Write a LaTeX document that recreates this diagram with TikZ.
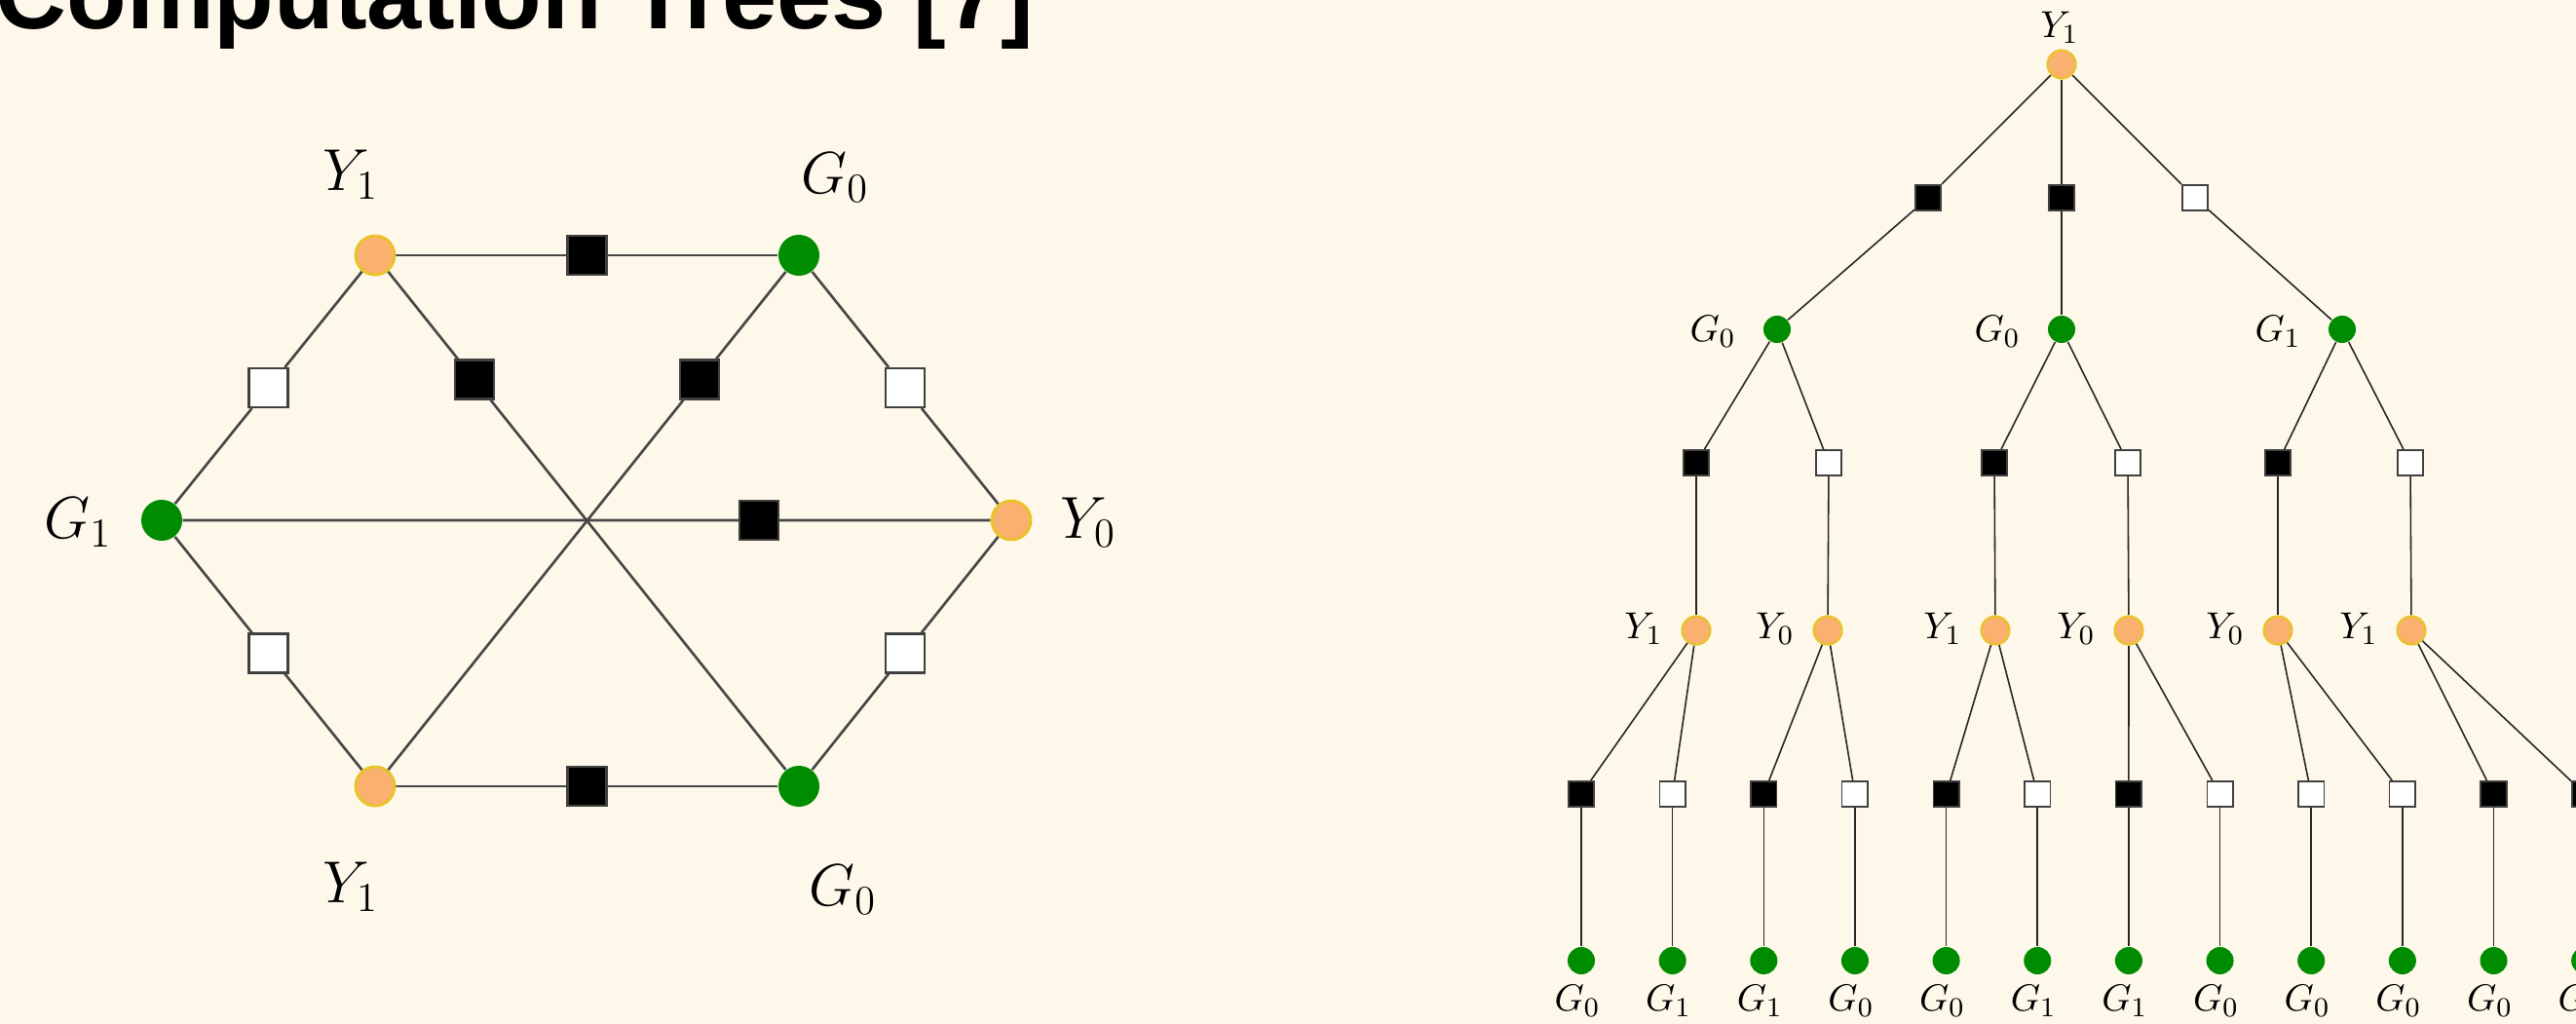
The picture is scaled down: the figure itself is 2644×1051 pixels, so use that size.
\documentclass[tikz,border=0pt]{standalone}
\usepackage{fontspec}
\newfontfamily\titlefont{Liberation Sans}
\usetikzlibrary{calc}
\definecolor{bgc}{RGB}{254,248,234}
\definecolor{orc}{RGB}{250,176,110}
\definecolor{ylc}{RGB}{232,196,40}
\definecolor{grc}{RGB}{0,140,0}
\pgfdeclarelayer{bgfill}
\pgfdeclarelayer{edges}
\pgfsetlayers{bgfill,edges,main}
\begin{document}
\begin{tikzpicture}[x=0.01cm,y=-0.01cm,
  ynode/.style={circle,fill=orc,draw=ylc,inner sep=0pt,minimum size=#1},
  gnode/.style={circle,fill=grc,inner sep=0pt,minimum size=#1},
  bigsq/.style={rectangle,fill=#1,draw=black!75,line width=0.6pt,inner sep=0pt,minimum size=0.40cm},
  smallsq/.style={rectangle,fill=#1,draw=black!75,line width=0.45pt,inner sep=0pt,minimum size=0.265cm},
  bigedge/.style={draw=black!72,line width=0.75pt},
  smalledge/.style={draw=black!85,line width=0.45pt},
  biglab/.style={font=\fontsize{17}{20}\selectfont,inner sep=0pt},
  smalllab/.style={font=\fontsize{11}{13}\selectfont,inner sep=0pt}]
\useasboundingbox (0,0) rectangle (2644,1051);
\begin{pgfonlayer}{bgfill}
\fill[bgc] (0,0) rectangle (2644,1051);
\end{pgfonlayer}

% title
\node[anchor=base west,inner sep=0pt,font=\titlefont\bfseries\fontsize{28.7}{34}\selectfont] (title) at (-5,29) {Computation Trees [7]};

% ---------- left graph ----------
\node[ynode=0.40cm,line width=0.8pt] (A) at (385,262) {};
\node[gnode=0.42cm] (B) at (820,262) {};
\node[gnode=0.42cm] (C) at (166,534) {};
\node[ynode=0.40cm,line width=0.8pt] (D) at (1038,534) {};
\node[ynode=0.40cm,line width=0.8pt] (E) at (385,807) {};
\node[gnode=0.42cm] (F) at (820,807) {};

\node[bigsq=black] (sAB) at ($(A)!0.5!(B)$) {};
\node[bigsq=white] (sCA) at ($(C)!0.5!(A)$) {};
\node[bigsq=white] (sBD) at ($(B)!0.5!(D)$) {};
\node[bigsq=white] (sCE) at ($(C)!0.5!(E)$) {};
\node[bigsq=white] (sFD) at ($(F)!0.5!(D)$) {};
\node[bigsq=black] (sEF) at ($(E)!0.5!(F)$) {};
\node[bigsq=black] (sAF) at ($(A)!0.234!(F)$) {};
\node[bigsq=black] (sEB) at ($(E)!0.766!(B)$) {};
\node[bigsq=black] (sCD) at ($(C)!0.703!(D)$) {};

\node[biglab] (lA) at (360,179) {$Y_1$};
\node[biglab] (lB) at (857,182) {$G_0$};
\node[biglab] (lC) at (80,536) {$G_1$};
\node[biglab] (lD) at (1117,536) {$Y_0$};
\node[biglab] (lE) at (360,910) {$Y_1$};
\node[biglab] (lF) at (865,913) {$G_0$};

\begin{pgfonlayer}{edges}
\foreach \a/\b in {A/sAB,sAB/B,C/sCA,sCA/A,B/sBD,sBD/D,C/sCE,sCE/E,F/sFD,sFD/D,E/sEF,sEF/F,A/sAF,sAF/F,E/sEB,sEB/B,C/sCD,sCD/D}
  \draw[bigedge] (\a) -- (\b);
\end{pgfonlayer}

% ---------- tree ----------
\node[ynode=0.29cm,line width=0.6pt] (R) at (2116,66) {};
\node[smalllab] (lR) at (2114,28) {$Y_1$};

\node[smallsq=black] (q1) at (1979,203) {};
\node[smallsq=black] (q2) at (2116,203) {};
\node[smallsq=white] (q3) at (2253,203) {};

\node[gnode=0.28cm] (g1) at (1824,338) {};
\node[gnode=0.28cm] (g2) at (2116,338) {};
\node[gnode=0.28cm] (g3) at (2404,338) {};
\node[smalllab] (lg1) at (1758,340) {$G_0$};
\node[smalllab] (lg2) at (2050,340) {$G_0$};
\node[smalllab] (lg3) at (2338,340) {$G_1$};

\foreach \k/\x/\c in {1/1741/black,2/1877/white,3/2047/black,4/2184/white,5/2338/black,6/2474/white}
  \node[smallsq=\c] (s3-\k) at (\x,475) {};

\foreach \k/\x/\s in {1/1741/1,2/1876/0,3/2048/1,4/2185/0,5/2338/0,6/2475/1}{
  \node[ynode=0.29cm,line width=0.6pt] (y4-\k) at (\x,647) {};
  \node[smalllab] (ly4-\k) at (\x-54,645) {$Y_{\s}$};
}

\foreach \i/\c/\s in {0/black/0,1/white/1,2/black/1,3/white/0,4/black/0,5/white/1,6/black/1,7/white/0,8/white/0,9/white/0,10/black/0,11/black/0}{
  \pgfmathsetmacro\xx{1623+93.65*\i}
  \node[smallsq=\c] (s5-\i) at (\xx,815) {};
  \node[gnode=0.28cm] (g6-\i) at (\xx,986) {};
  \node[smalllab] (lg6-\i) at (\xx-4,1027) {$G_{\s}$};
}

\begin{pgfonlayer}{edges}
\foreach \a/\b in {R/q1,R/q2,R/q3,q1/g1,q2/g2,q3/g3,
  g1/s3-1,g1/s3-2,g2/s3-3,g2/s3-4,g3/s3-5,g3/s3-6,
  s3-1/y4-1,s3-2/y4-2,s3-3/y4-3,s3-4/y4-4,s3-5/y4-5,s3-6/y4-6,
  y4-1/s5-0,y4-1/s5-1,y4-2/s5-2,y4-2/s5-3,y4-3/s5-4,y4-3/s5-5,
  y4-4/s5-6,y4-4/s5-7,y4-5/s5-8,y4-5/s5-9,y4-6/s5-10,y4-6/s5-11}
  \draw[smalledge] (\a) -- (\b);
\foreach \i in {0,...,11}
  \draw[smalledge] (s5-\i) -- (g6-\i);
\end{pgfonlayer}
\end{tikzpicture}
\end{document}
